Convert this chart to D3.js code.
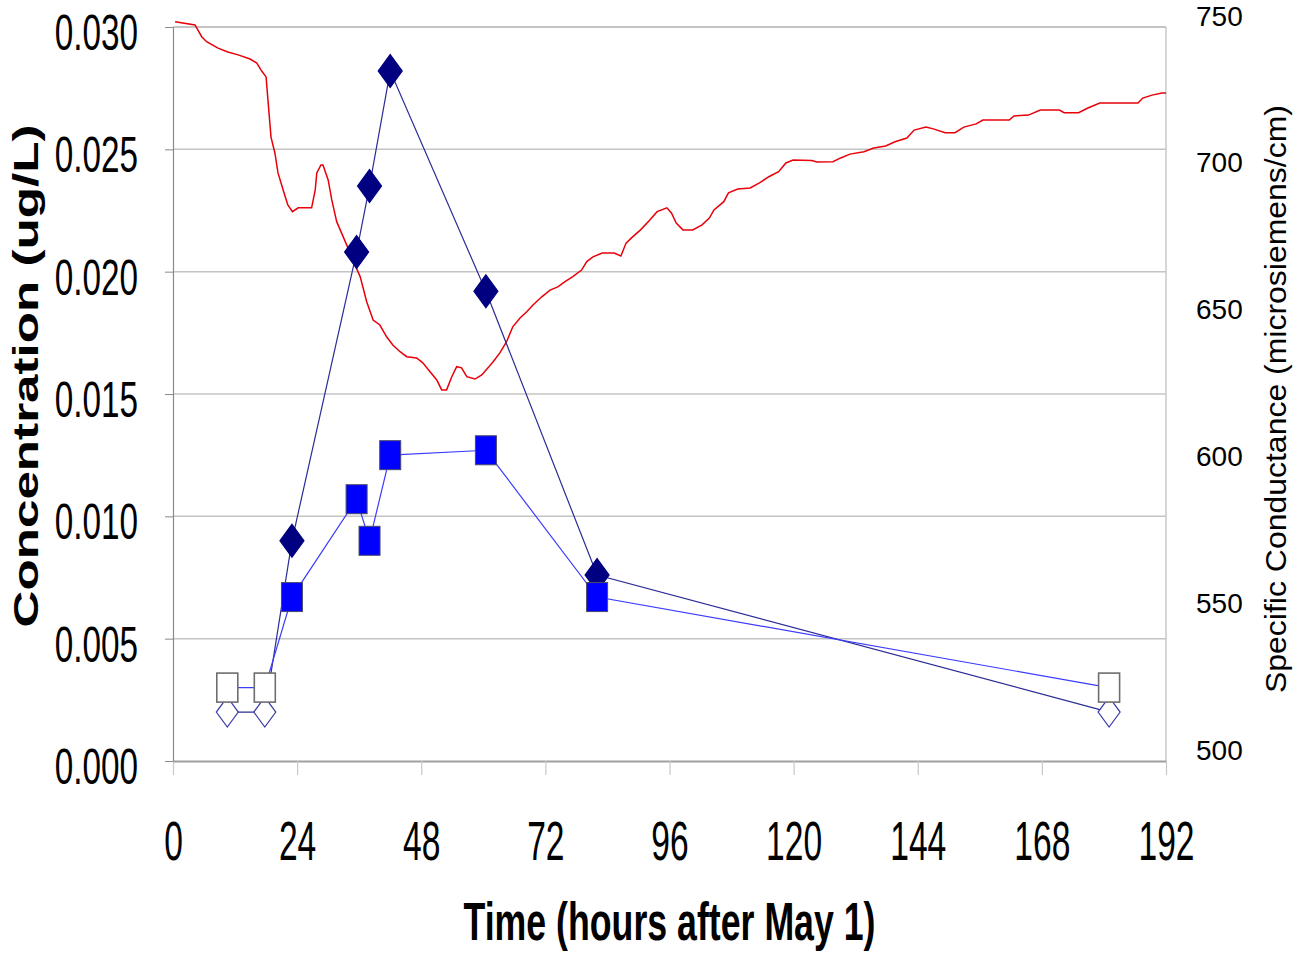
<!DOCTYPE html>
<html>
<head>
<meta charset="utf-8">
<script src="https://cdn.jsdelivr.net/npm/d3@7"></script>
<style>
  body { margin: 0; background: #fff; }
  svg { display: block; font-family: "Liberation Sans", Arial, sans-serif; }
</style>
</head>
<body>
<div id="chart"></div>
<script>
// sample times (hours after May 1) and concentrations
var sampleHours = [10.5, 17.75, 23, 35.5, 38, 42, 60.5, 82, 181];
var diamondVals = [0.002, 0.002, 0.009, 0.0208, 0.0235, 0.0282, 0.0192, 0.0076, 0.002];
var squareVals  = [0.003, 0.003, 0.0067, 0.0107, 0.009, 0.0125, 0.0127, 0.0067, 0.003];
// open markers = below detection
var detected    = [false, false, true, true, true, true, true, true, false];

// specific conductance record
var condHours = [0.4, 4.25, 5.55, 6.5, 8.7, 10.6, 12.6, 14.9, 16.2, 17.15, 18, 18.2, 18.95, 19.7, 20.3,
  21.3, 22.2, 23.1, 24.2, 26.8, 27.5, 27.8, 28.6, 29, 30, 30.7, 31.65, 32.6, 33.6, 34.8, 36.2, 37.45,
  38.7, 40, 41.3, 42.5, 43.9, 45.2, 47.1, 48.3, 49.7, 51, 51.95, 52.9, 53.9, 54.85, 55.8, 56.8, 58.4,
  59.7, 60.9, 61.9, 63.2, 64.5, 65.7, 67.1, 68.4, 69.6, 71.3, 72.9, 74.4, 75.8, 77.3, 79, 80, 81.2,
  83, 85.3, 86.6, 87.6, 88.6, 90.4, 92.2, 93.6, 95.5, 96.4, 97.3, 98.6, 100.5, 102.3, 103.7, 104.6,
  106.5, 107.4, 109.2, 111.6, 113.4, 115.2, 117.1, 118.5, 119.9, 123.5, 124.5, 127.6, 129.1, 130.9,
  133.6, 135.5, 137.8, 139.6, 141.9, 143.3, 145.6, 147, 149.3, 151.2, 152.9, 155.3, 156.6, 161.7,
  162.6, 165.4, 167.7, 171.4, 172.3, 175.1, 176.9, 179.2, 186.6, 187.5, 189.3, 191.2, 192];
var condVals = [751.8, 750.7, 746.7, 745, 742.8, 741.5, 740.5, 739.1, 737.7, 735, 733, 728.5, 712.5, 707.1, 700.3,
  694.5, 689.4, 687.1, 688.4, 688.4, 694.5, 700.3, 703, 703, 697.9, 691.1, 683.7, 679.8, 675.7, 670.6, 664.9, 656.4,
  650.2, 648.5, 644.5, 641.7, 639.4, 637.7, 637.3, 635.6, 632.6, 629.8, 626.4, 626.4, 630.9, 634.3, 633.9, 630.9, 630.1,
  631.5, 633.9, 636, 639, 642.8, 647.9, 650.9, 653, 655.3, 658.1, 660.4, 661.5, 663.3, 665, 667.2, 670.1, 671.7,
  673, 673, 672, 676.4, 678.1, 680.9, 684.3, 687.1, 688.4, 686.6, 683.2, 680.9, 680.9, 682.6, 684.9, 687.7,
  690.5, 693.5, 694.8, 695.2, 696.9, 699, 700.7, 703.7, 704.7, 704.5, 704, 704.1, 705.4, 706.7,
  707.5, 708.8, 709.5, 710.9, 712.2, 714.9, 715.9, 715.3, 714, 714, 715.9, 717, 718.3, 718.3,
  719.7, 720, 721.7, 721.7, 720.8, 720.8, 722.4, 724.1, 724.1, 725.8, 726.8, 727.5, 727.5];

var xTicks = [0, 24, 48, 72, 96, 120, 144, 168, 192];
var leftTicks = [0, 0.005, 0.010, 0.015, 0.020, 0.025, 0.030];
var rightTicks = [500, 550, 600, 650, 700, 750];

var W = 1296, H = 954;
var plotL = 173, plotR = 1166, plotT = 27, plotB = 761;

var svg = d3.select("#chart").append("svg")
  .attr("width", W).attr("height", H);

var x = d3.scaleLinear().domain([0, 192]).range([plotL, plotR]);
var yL = d3.scaleLinear().domain([0, 0.03]).range([plotB, plotT]);
var yR = d3.scaleLinear().domain([500, 750]).range([plotB, plotT]);

// gridlines
svg.append("g").selectAll("line")
  .data(leftTicks.slice(1, -1))
  .enter().append("line")
    .attr("x1", plotL).attr("x2", plotR)
    .attr("y1", function(d) { return yL(d); })
    .attr("y2", function(d) { return yL(d); })
    .attr("stroke", "#c4c4c4").attr("stroke-width", 1.5);

// top and right border
svg.append("line").attr("x1", plotL).attr("x2", plotR).attr("y1", plotT).attr("y2", plotT)
  .attr("stroke", "#8a8a8a").attr("stroke-width", 1.2);
svg.append("line").attr("x1", plotR).attr("x2", plotR).attr("y1", plotT).attr("y2", plotB)
  .attr("stroke", "#c8c8c8").attr("stroke-width", 1.5);

// x axis
var xAxis = svg.append("g")
  .attr("transform", "translate(0," + plotB + ")")
  .call(d3.axisBottom(x).tickValues(xTicks).tickSize(14).tickSizeOuter(0));
xAxis.select(".domain").attr("stroke", "#a0a0a0").attr("stroke-width", 2);
xAxis.selectAll(".tick line").attr("stroke", "#c8c8c8").attr("stroke-width", 1.2);
xAxis.selectAll(".tick text")
  .attr("y", 99).attr("dy", 0)
  .attr("font-size", 56)
  .attr("fill", "#000")
  .attr("transform", "scale(0.6,1)");

// left axis
var lAxis = svg.append("g")
  .attr("transform", "translate(" + plotL + ",0)")
  .call(d3.axisLeft(yL).tickValues(leftTicks).tickSize(8).tickSizeOuter(0).tickFormat(d3.format(".3f")));
lAxis.select(".domain").attr("stroke", "#8a8a8a").attr("stroke-width", 1.2);
lAxis.selectAll(".tick line").attr("stroke", "#8a8a8a").attr("stroke-width", 1);
lAxis.selectAll(".tick text")
  .attr("x", -35 / 0.68).attr("y", 5).attr("dy", "0.36em")
  .attr("font-size", 49)
  .attr("fill", "#000")
  .attr("transform", "scale(0.68,1)");

// right axis
var rAxis = svg.append("g")
  .attr("transform", "translate(" + plotR + ",0)")
  .call(d3.axisRight(yR).tickValues(rightTicks).tickSize(0));
rAxis.select(".domain").remove();
rAxis.selectAll(".tick text")
  .attr("x", 30).attr("y", -12).attr("dy", "0.36em")
  .attr("font-size", 28)
  .attr("fill", "#000");

// axis titles
svg.append("text")
  .attr("x", (plotL + plotR) / 2).attr("y", 940)
  .attr("text-anchor", "middle")
  .attr("font-size", 54).attr("font-weight", "bold")
  .attr("textLength", 412).attr("lengthAdjust", "spacingAndGlyphs")
  .text("Time (hours after May 1)");

svg.append("text")
  .attr("transform", "translate(38,376) rotate(-90)")
  .attr("text-anchor", "middle")
  .attr("font-size", 35).attr("font-weight", "bold")
  .attr("textLength", 503).attr("lengthAdjust", "spacingAndGlyphs")
  .text("Concentration (ug/L)");

svg.append("text")
  .attr("transform", "translate(1286,399) rotate(-90)")
  .attr("text-anchor", "middle")
  .attr("font-size", 30)
  .attr("textLength", 588).attr("lengthAdjust", "spacingAndGlyphs")
  .text("Specific Conductance (microsiemens/cm)");

// conductance line
var condData = condHours.map(function(h, i) { return {h: h, v: condVals[i]}; });
svg.append("path")
  .datum(condData)
  .attr("fill", "none")
  .attr("stroke", "#e8000a")
  .attr("stroke-width", 1.5)
  .attr("d", d3.line()
    .x(function(d) { return x(d.h); })
    .y(function(d) { return yR(d.v); }));

var diamonds = sampleHours.map(function(h, i) { return {h: h, v: diamondVals[i], det: detected[i]}; });
var squares = sampleHours.map(function(h, i) { return {h: h, v: squareVals[i], det: detected[i]}; });

var concLine = d3.line()
  .x(function(d) { return x(d.h); })
  .y(function(d) { return yL(d.v); });

// diamond series
svg.append("path").datum(diamonds)
  .attr("fill", "none").attr("stroke", "#2c2c96").attr("stroke-width", 1.2)
  .attr("d", concLine);

svg.append("g").selectAll("path")
  .data(diamonds)
  .enter().append("path")
    .attr("transform", function(d) { return "translate(" + x(d.h) + "," + yL(d.v) + ")"; })
    .attr("d", function(d) {
      var w = d.det ? 12 : 11, hh = d.det ? 16.5 : 15;
      return "M0," + (-hh) + "L" + w + ",0L0," + hh + "L" + (-w) + ",0Z";
    })
    .attr("fill", function(d) { return d.det ? "#000080" : "#fff"; })
    .attr("stroke", function(d) { return d.det ? "#000080" : "#3a3aa8"; })
    .attr("stroke-width", 1.2);

// square series
svg.append("path").datum(squares)
  .attr("fill", "none").attr("stroke", "#3c3cff").attr("stroke-width", 1.2)
  .attr("d", concLine);

svg.append("g").selectAll("rect")
  .data(squares)
  .enter().append("rect")
    .attr("x", function(d) { return x(d.h) - 10.5; })
    .attr("y", function(d) { return yL(d.v) - 14.5; })
    .attr("width", 21).attr("height", 29)
    .attr("fill", function(d) { return d.det ? "#0000ff" : "#fff"; })
    .attr("stroke", function(d) { return d.det ? "#4a4a6a" : "#6e6e6e"; })
    .attr("stroke-width", function(d) { return d.det ? 1 : 1.6; });
</script>
</body>
</html>
